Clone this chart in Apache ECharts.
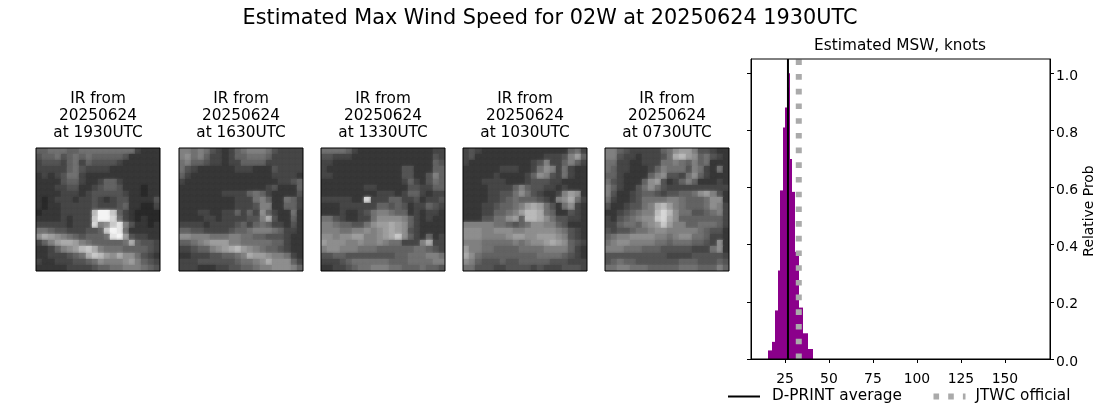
<!DOCTYPE html>
<html><head><meta charset="utf-8">
<style>html,body{margin:0;padding:0;background:#fff}#c{width:1100px;height:409px}</style>
<script src="https://cdn.jsdelivr.net/npm/echarts@6/dist/echarts.min.js"></script>
</head><body><div id="c"></div>
<script>
const panelTitles = ['IR from\n20250624\nat 1930UTC','IR from\n20250624\nat 1630UTC','IR from\n20250624\nat 1330UTC','IR from\n20250624\nat 1030UTC','IR from\n20250624\nat 0730UTC'];
const ir1930 = ['55666556666666663222','45564565655555422222','34443563544443222222','33333564333322222222','23234663222222222222','22224553223553222222','22233442234554222122','22223332344444322122','21233323343234422224','21223333343334522113','122233333bffc5321111','222232333cffd6321211','333332333d78ce742212','66544333445cfe622222','8a9876545556ef943322','3579aa976555556a5443','2235789bca7666555543','22333456acb98a886432','32233344568777897543','22222333345566777654'];
const ir1630 = ['77676432356777643333','78675332355666533333','67554332335555333333','64322222233322243333','53222222222222233332','32222222222222223345','22222222222222342225','22222223333565322224','22222222233367522653','22222222233347722553','22233223353538532262','22223323333447a42252','33332333345356533242','55443333455677765332','88777666776655444322','55678999776666655322','33455789ab9876554322','22333445567a99877632','33344444456678a88853','33322233445567788875'];
const ir1330 = ['66665322222222222233','44333222222222222243','33222222222222222254','32222222222224422255','33222222222224422475','22222222222223532465','22222223322222443355','22222222233323553233','3333322d333553342334','22233333355454233543','22232234677655232332','66432233688887532322','77655446899a98532222','77766778789a98432222','88788997789ac8532523','98887787787663337a33','78877766655555566543','44554444444455666776','33345666666555666677','22334566777665556554'];
const ir1030 = ['34322222222222222563','34222222222223334795','32222222222347335753','22222233322368736322','22222322223587436322','22233332223444332222','22223333575443323222','22223344686432237982','22223345655543278a63','22233455679a96426832','2223355679bba6522432','2224466895bba8644332','77777665456887754222','88877888778888876432','88877778998899987432','77766666767889a98543','97766555566667777532','a8655555555566665432','87544454455555444333','66444334444343334443'];
const ir0730 = ['77543333356899744322','77433233346ab9856432','66332233366765756222','65332223576664763262','55322225784436853222','64322258942357522232','75322468643333333333','74223455434455689742','63223466667765556882','42234467ab9765556873','22345677bdb866445673','32456788cda855555553','335665789c9775566653','43445667887777765442','56778888776788665332','67887777665666554382','77766655544444333682','44444444443333444443','45655444444455544454','66776665555566655575'];
const irPanels = [ir1930, ir1630, ir1330, ir1030, ir0730];
const binEdges = [15.34,17.8,19.5,21.0,22.2,23.9,25,25.9,27.1,27.8,29,30.7,33,35.2,38.1,40.7];
const binProb  = [0.03,0.06,0.17,0.31,0.59,0.81,0.88,0.95,1.0,0.70,0.585,0.375,0.18,0.09,0.035];
const dprintAverage = 26.7;
const jtwcOfficial = 32.85;
const xTicks = [25,50,75,100,125,150];
const yTicks = [0,0.2,0.4,0.6,0.8,1.0];

const font = 'DejaVu Sans';
const panelLeft = [36,179,321,463,605];
const grids=[], xAxes=[], yAxes=[], series=[];
const titleStyle = (s,extra)=>Object.assign({fontFamily:font,fontSize:s,fontWeight:'normal',color:'#000'},extra||{});
const titles=[{text:'Estimated Max Wind Speed for 02W at 20250624 1930UTC',left:550,top:8,padding:0,textAlign:'center',textStyle:titleStyle(20.8)},
 {text:'Estimated MSW, knots',left:900,top:39,padding:0,textAlign:'center',textStyle:titleStyle(15.3)}];
irPanels.forEach((rows,i)=>{
  grids.push({left:panelLeft[i],top:148,width:124,height:123,show:true,z:5,backgroundColor:'transparent',borderColor:'#000',borderWidth:1});
  xAxes.push({type:'value',gridIndex:i,show:false,min:0,max:20,splitLine:{show:false}});
  yAxes.push({type:'value',gridIndex:i,show:false,inverse:true,min:0,max:20,splitLine:{show:false}});
  const d=[];
  rows.forEach((r,y)=>{[...r].forEach((ch,x)=>d.push([x,y,parseInt(ch,16)]));});
  series.push({type:'custom',xAxisIndex:i,yAxisIndex:i,data:d,silent:true,z:2,
    renderItem:(params,api)=>{
      const a=api.coord([api.value(0),api.value(1)]), b=api.coord([api.value(0)+1,api.value(1)+1]);
      const g=Math.round(26+api.value(2)*14.5), c='rgb('+g+','+g+','+g+')', s=params.coordSys;
      return {type:'rect',shape:{x:Math.round(a[0]),y:Math.round(a[1]),width:Math.round(b[0])-Math.round(a[0]),height:Math.round(b[1])-Math.round(a[1])},
        style:{fill:c,shadowBlur:3,shadowColor:c},
        clipPath:{type:'rect',shape:{x:s.x,y:s.y,width:s.width,height:s.height}}};
    }});
  titles.push({text:panelTitles[i],left:panelLeft[i]+62,top:91,padding:0,textAlign:'center',textStyle:titleStyle(15.3,{lineHeight:17})});
});
const H=5;
grids.push({left:751,top:59,width:299,height:300,show:true,z:5,backgroundColor:'transparent',borderColor:'#000',borderWidth:1});
xAxes.push({type:'value',gridIndex:H,min:5.7,max:175.6,splitLine:{show:false},
  axisLine:{show:true,onZero:false,lineStyle:{color:'#000'}},
  axisTick:{show:true,length:4,customValues:xTicks,lineStyle:{color:'#000'}},
  axisLabel:{customValues:xTicks,fontFamily:font,fontSize:13.9,color:'#000',margin:13}});
yAxes.push({type:'value',gridIndex:H,position:'right',min:0,max:1.05,splitLine:{show:false},
  name:'Relative Prob',nameLocation:'middle',nameGap:32,nameRotate:90,nameTextStyle:{fontFamily:font,fontSize:13.9,color:'#000',padding:[0,4,0,0]},
  axisLine:{show:true,lineStyle:{color:'#000'}},
  axisTick:{show:true,length:4,customValues:yTicks,lineStyle:{color:'#000'}},
  axisLabel:{customValues:yTicks,fontFamily:font,fontSize:13.9,color:'#000',margin:6,verticalAlign:'top',lineHeight:6,formatter:v=>v.toFixed(1)}});
yAxes.push({type:'value',gridIndex:H,position:'left',min:0,max:1.05,splitLine:{show:false},
  axisLine:{show:true,lineStyle:{color:'#000'}},
  axisTick:{show:true,length:4,customValues:yTicks,lineStyle:{color:'#000'}},
  axisLabel:{show:false}});
series.push({type:'custom',xAxisIndex:H,yAxisIndex:H,silent:true,z:2,
  data:binProb.map((p,i)=>[binEdges[i],binEdges[i+1],p]),
  encode:{x:[0,1],y:2},
  renderItem:(params,api)=>{
    const a=api.coord([api.value(0),api.value(2)]), b=api.coord([api.value(1),0]);
    const x0=Math.round(a[0]), x1=Math.round(b[0]);
    return {type:'rect',shape:{x:x0,y:a[1],width:x1-x0,height:b[1]-a[1]},style:{fill:'#8b008b'}};
  }});
series.push({type:'line',name:'JTWC official',xAxisIndex:H,yAxisIndex:H,symbol:'none',silent:true,z:3,
  data:[[jtwcOfficial,0],[jtwcOfficial,1.05]],itemStyle:{color:'#aaaaaa'},lineStyle:{color:'#aaaaaa',width:6,type:[5.6,9.1],cap:'butt'}});
series.push({type:'line',name:'D-PRINT average',xAxisIndex:H,yAxisIndex:H,symbol:'none',silent:true,z:4,
  data:[[dprintAverage,0],[dprintAverage,1.05]],itemStyle:{color:'#000'},lineStyle:{color:'#000',width:2}});

const chart=echarts.init(document.getElementById('c'),null,{renderer:'canvas'});
const legendBase={top:389,itemWidth:32,itemHeight:14,padding:0,selectedMode:false,itemStyle:{opacity:0},textStyle:{fontFamily:font,fontSize:15.3,color:'#000',padding:[0,0,0,7]}};
chart.setOption({animation:false,backgroundColor:'#fff',title:titles,grid:grids,xAxis:xAxes,yAxis:yAxes,series,
  legend:[
   Object.assign({},legendBase,{data:['D-PRINT average'],left:727}),
   Object.assign({},legendBase,{data:['JTWC official'],left:930.5,lineStyle:{width:6},textStyle:{fontFamily:font,fontSize:15.3,color:'#000',padding:[0,0,0,5]}})
  ]});
</script></body></html>
